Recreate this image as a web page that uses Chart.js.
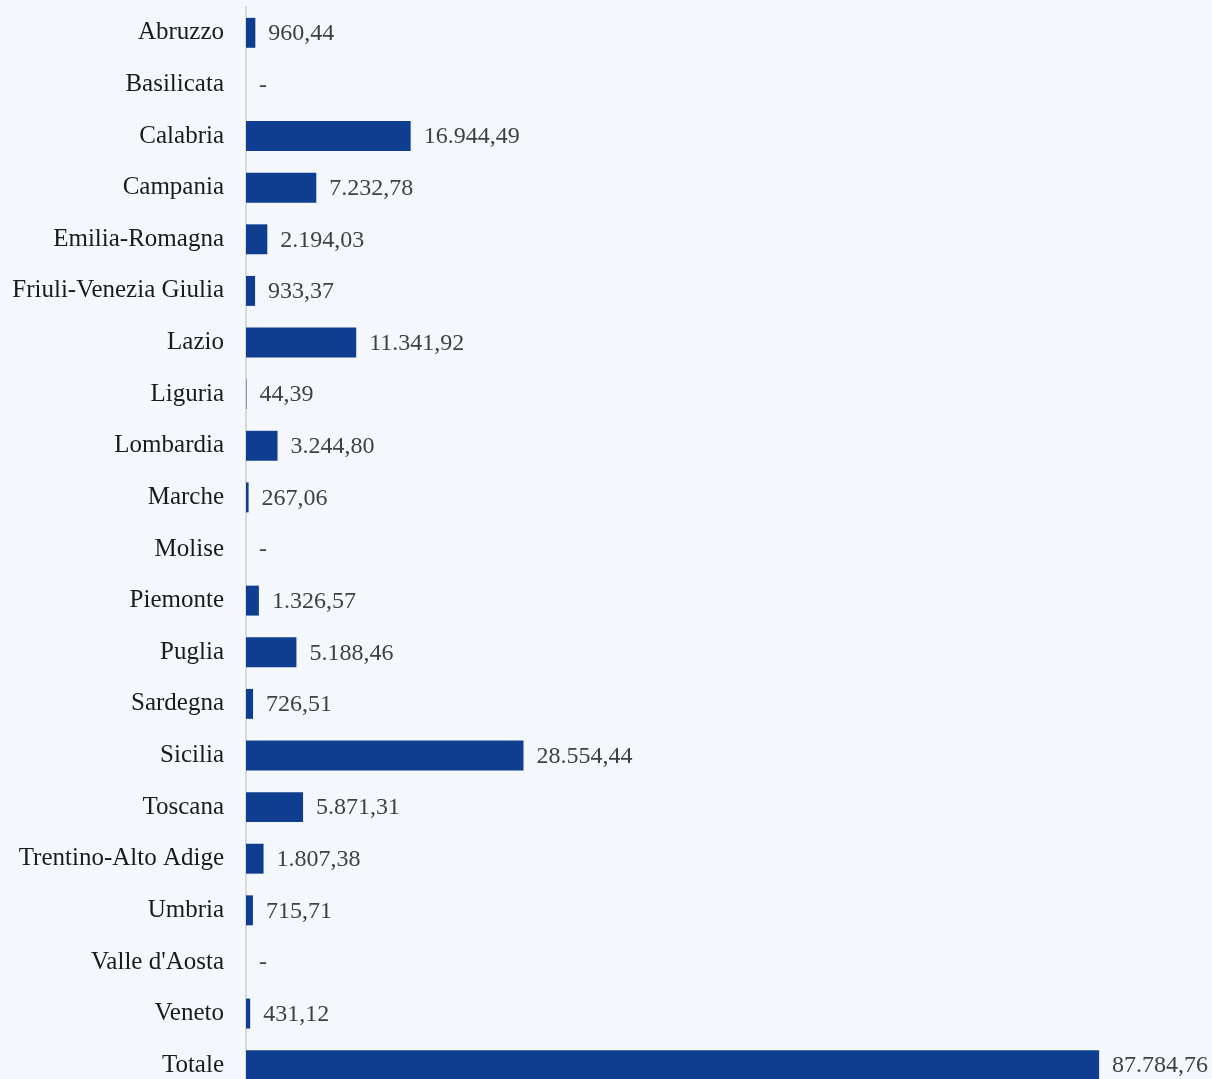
<!DOCTYPE html>
<html>
<head>
<meta charset="utf-8">
<script src="https://cdn.jsdelivr.net/npm/chart.js@4.4.0/dist/chart.umd.min.js"></script>
<style>
  html, body { margin: 0; padding: 0; background: #f4f8fc; overflow: hidden; }
  #wrap { width: 1212px; height: 1095px; }
</style>
</head>
<body>
<div id="wrap"><canvas id="regionChart" width="1212" height="1095"></canvas></div>
<script>
const regions = ['Abruzzo', 'Basilicata', 'Calabria', 'Campania', 'Emilia-Romagna',
  'Friuli-Venezia Giulia', 'Lazio', 'Liguria', 'Lombardia', 'Marche', 'Molise',
  'Piemonte', 'Puglia', 'Sardegna', 'Sicilia', 'Toscana', 'Trentino-Alto Adige',
  'Umbria', "Valle d'Aosta", 'Veneto', 'Totale'];
const amounts = [960.44, 0, 16944.49, 7232.78, 2194.03, 933.37, 11341.92, 44.39,
  3244.80, 267.06, 0, 1326.57, 5188.46, 726.51, 28554.44, 5871.31, 1807.38,
  715.71, 0, 431.12, 87784.76];

// italian style number: 12.345,67
function fmt(v) {
  if (!v) return '-';
  const parts = v.toFixed(2).split('.');
  const int = parts[0].replace(/\B(?=(\d{3})+(?!\d))/g, '.');
  return int + ',' + parts[1];
}

const valueLabels = {
  id: 'valueLabels',
  afterDatasetsDraw(chart) {
    const ctx = chart.ctx;
    const meta = chart.getDatasetMeta(0);
    ctx.save();
    ctx.font = '24px "Liberation Serif", serif';
    ctx.fillStyle = '#404040';
    ctx.textAlign = 'left';
    ctx.textBaseline = 'middle';
    meta.data.forEach((bar, i) => {
      ctx.fillText(fmt(amounts[i]), bar.x + 13, bar.y + 1);
    });
    ctx.restore();
  }
};

const ctx = document.getElementById('regionChart').getContext('2d');
new Chart(ctx, {
  type: 'bar',
  data: {
    labels: regions,
    datasets: [{
      data: amounts,
      backgroundColor: '#0f3e90',
      barPercentage: 0.58,
      categoryPercentage: 1
    }]
  },
  options: {
    indexAxis: 'y',
    responsive: false,
    animation: false,
    layout: { padding: { top: 7, bottom: 4, right: 0, left: 0 } },
    plugins: { legend: { display: false }, tooltip: { enabled: false } },
    scales: {
      x: { display: false, min: 0, max: 99400 },
      y: {
        grid: { display: false, drawTicks: false },
        border: { display: true, color: '#d9d9d9', width: 2 },
        ticks: {
          color: '#1a1a1a',
          padding: 22,
          font: { family: '"Liberation Serif", serif', size: 25 }
        },
        afterFit(scale) {
          scale.width = 246;
          scale.paddingTop = 0;
          scale.paddingBottom = 0;
        }
      }
    }
  },
  plugins: [valueLabels]
});
</script>
</body>
</html>
